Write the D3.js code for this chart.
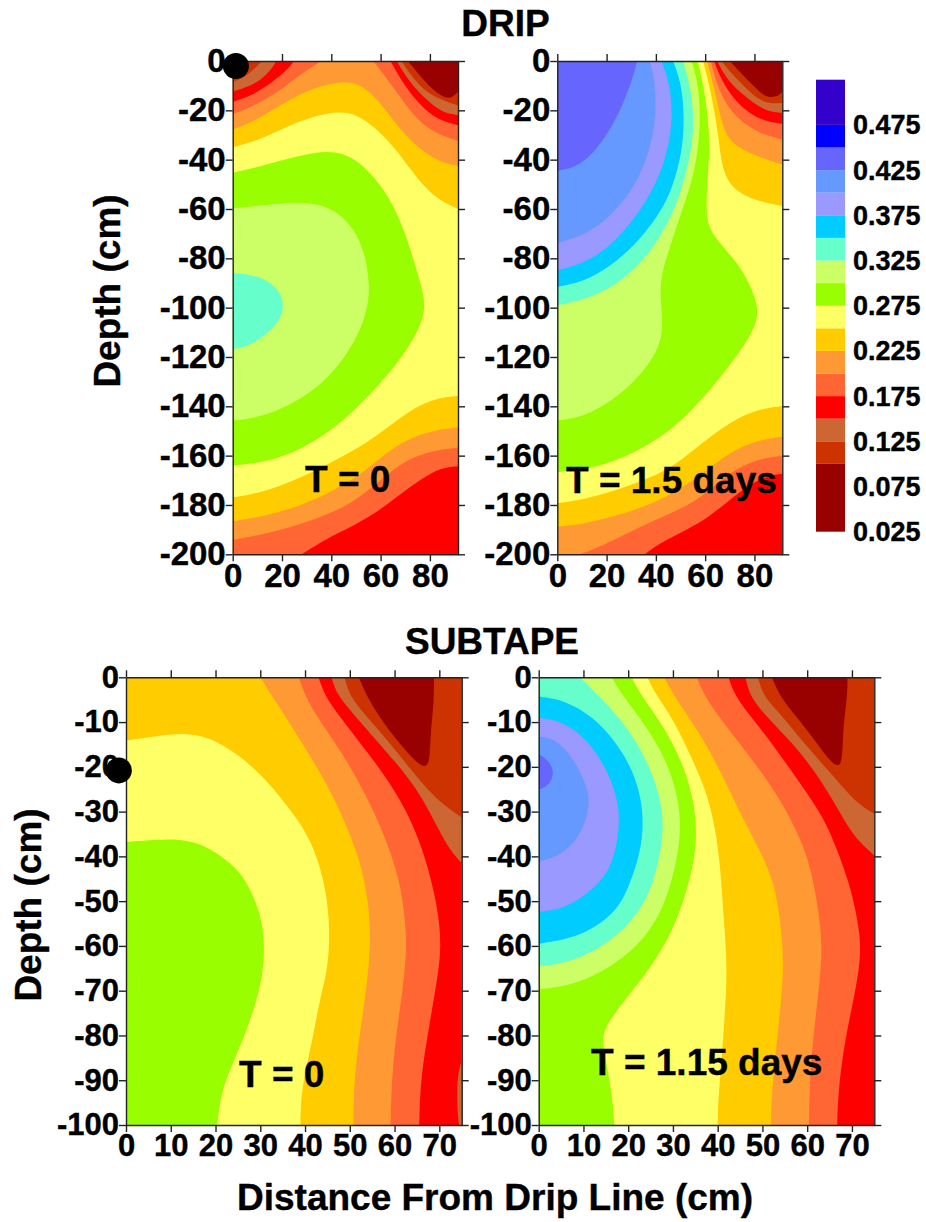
<!DOCTYPE html>
<html><head><meta charset="utf-8">
<script src="https://cdn.jsdelivr.net/npm/d3@7/dist/d3.min.js"></script>
<style>html,body{margin:0;background:#fff}svg{display:block}text{font-family:"Liberation Sans",Arial,sans-serif;font-weight:bold;fill:#000;stroke:#000;stroke-width:.4px}</style>
</head><body><svg id="c" width="926" height="1222"></svg>
<script>
// ---------- data ----------
const bandEdges = [0.025,0.1,0.125,0.15,0.175,0.2,0.225,0.25,0.275,0.3,0.325,0.35,0.375,0.4,0.425,0.45,0.475,0.525];
const bandColors = ["#990000","#CC3300","#CC6633","#FF0000","#FF6633","#FF9933","#FFCC00","#FFFF66","#99FF00","#CCFF66","#66FFCC","#00CCFF","#9999FF","#6699FF","#6666FF","#0000FF","#3300CC"];
const legendLabels = ["0.025","0.075","0.125","0.175","0.225","0.275","0.325","0.375","0.425","0.475"];
const dripXTicks = [0,20,40,60,80];
const dripYTicks = [0,-20,-40,-60,-80,-100,-120,-140,-160,-180,-200];
const subtapeXTicks = [0,10,20,30,40,50,60,70];
const subtapeYTicks = [0,-10,-20,-30,-40,-50,-60,-70,-80,-90,-100];
const dripEmitter = [[1.3,2]];
const subtapeEmitter = [[-1.6,20.8]];

// each layer: lower edge of its water-content band, corners that close it, contour [distance, depth below surface]
const dripZero = [
 [0.225,["TR","TL"],[[0,35],[11,32],[23,26],[34,22],[43.5,20.5],[50,21.5],[58,27],[66.5,36],[74.6,47.5],[82.7,56],[91.4,60]]],
 [0.2,["TR","TL"],[[0,27.7],[7,25.5],[20.5,17],[34,10.2],[46,8],[53,10],[60,17],[68,28],[76,36],[84,41],[91.4,42.5]]],
 [0.175,["TL"],[[0,21.5],[7,19],[18,13],[27,5.7],[36,0]]],
 [0.175,["TR"],[[57,0],[64,9],[72,20.5],[80,28.6],[91.4,32.4]]],
 [0.15,["TL"],[[0,16.5],[7,14.5],[16.5,8.4],[22,3.6],[25,0]]],
 [0.15,["TR"],[[64,0],[69,9],[76,18],[82.7,23.6],[91.4,26]]],
 [0.125,["TL"],[[0,12.4],[8.4,9.7],[14,5.7],[17.8,0]]],
 [0.125,["TR"],[[66.5,0],[72,9],[78.6,15.8],[85,21],[91.4,22]]],
 [0.1,["TL"],[[0,8.4],[5.7,6.4],[11.8,0]]],
 [0.1,["TR"],[[68.5,0],[74.6,9],[81,14.5],[91.4,18]]],
 [0.025,["TR"],[[71,0],[74.6,4.3],[80,10.7],[85.4,14.8],[88.8,15.2],[91.4,12.4]]],
 [0.275,[],[[0,45.3],[11,42.8],[23,39.3],[34,37],[42,36.6],[50,39.6],[58,47.6],[65,57.7],[70.5,71],[74.4,84],[77,93],[78,99],[77,105],[73.6,112.5],[66.5,123],[58,132.7],[47.6,143.5],[36.8,152],[24.6,159],[12.4,162.8],[0,164]]],
 [0.3,[],[[0,59.7],[13.8,58.4],[24.6,57.2],[34,57.6],[43.5,61.4],[50.5,69.9],[54.3,80.7],[55.6,92.8],[54.6,100],[52.3,108],[46,119.8],[36.8,130.6],[26,138],[12.4,144.4],[0,145.8]]],
 [0.325,[],[[0,86],[7,86.6],[13.8,88.6],[19,93],[21,99],[19,105.8],[12.4,112],[5.7,115.8],[0,116.8]]],
 [0.225,["BR","BL"],[[0,177],[11,175.2],[26,169.8],[42,161.7],[54.3,155],[65,146.9],[74.6,140],[82.7,136.7],[91.4,135.8]]],
 [0.2,["BR","BL"],[[0,186.6],[12.4,184.7],[27,180.6],[42,173.9],[54.3,165.8],[63.8,157.7],[73,152.3],[82.7,149.6],[91.4,148.5]]],
 [0.175,["BR","BL"],[[0,194.2],[12.4,192],[27,188],[42,182.7],[53,176],[63.8,166.4],[73,160.4],[82.7,157.7],[91.4,156.7]]],
 [0.15,["BR"],[[28,200],[39.5,192.8],[50,188],[61,181.3],[72,172.5],[81.4,166.4],[86.8,164.7],[91.4,164.4]]]
];
const dripLater = [
 [0.275,["TL"],[[56.9,0],[59.2,9.2],[61.2,22.7],[61.9,36.2],[60.8,49.7],[60.3,61.9],[61.9,68.6],[66.6,74.7],[73.4,82.2],[78.8,91.6],[81.4,100],[81,105],[78.8,110.4],[72.7,119.9],[63.2,132],[51,145.5],[40.3,153.7],[26.8,161.1],[13.2,165.5],[0,166.6]]],
 [0.3,["TL"],[[54.5,0],[57.2,9.2],[58.1,22.7],[57.2,36.2],[54.5,49.7],[49.7,63.2],[45.7,75.4],[42.3,86],[41.7,94.3],[42.6,103],[42.6,113.1],[37.6,122.6],[29.5,132],[18.6,140.1],[9.2,144.6],[0,145.8]]],
 [0.325,["TL"],[[51,0],[53.8,9.2],[55.6,22.7],[54.5,36.2],[51,51],[45.7,64.6],[37.6,78.1],[26.8,88.9],[13.2,96.4],[0,99]]],
 [0.35,["TL"],[[47,0],[50.4,9.2],[51.6,22.7],[50.8,36.2],[47,51],[41.6,61.9],[32.2,74],[21.4,83.5],[10.5,89.6],[0,91.6]]],
 [0.375,["TL"],[[42.3,0],[45.7,9.2],[46.8,22.7],[45,36.2],[40.3,49.7],[32.2,63.2],[21.4,75.4],[10.5,82.2],[0,84.9]]],
 [0.4,["TL"],[[37.6,0],[39.6,7.8],[40.2,22.7],[37.6,36.2],[32.2,49.7],[24,60.5],[13.2,70],[0,73.8]]],
 [0.425,["TL"],[[32.4,0],[30.8,6.5],[26.8,17.3],[21.4,28.1],[14.6,37.6],[7.8,43],[0,44.6]]],
 [0.225,["TR"],[[59.2,0],[61.2,7.8],[63.2,17.3],[65.3,29.5],[66.4,40.3],[68.6,48.4],[74,53.8],[82,57],[91.2,58.8]]],
 [0.2,["TR"],[[60.8,0],[63.2,9.2],[66,21.4],[68.4,30.8],[74,35.5],[82,39],[91.2,41.9]]],
 [0.175,["TR"],[[62.3,0],[64.6,9.2],[68.6,18],[74,24],[82,29.5],[91.2,31.8]]],
 [0.15,["TR"],[[63.6,0],[66.6,7.8],[71.4,15.3],[78,21.4],[85,24.7],[91.2,25.4]]],
 [0.125,["TR"],[[64.9,0],[68.6,7.2],[74,12.6],[80.8,18],[86.2,20.7],[91.2,21]]],
 [0.1,["TR"],[[66.6,0],[71.4,5.8],[76.8,11.2],[82,16],[86.9,17.3],[91.2,17]]],
 [0.025,["TR"],[[70,0],[75.4,5.8],[80.8,11.2],[84.2,14.6],[88.9,14.7],[91.2,12.6]]],
 [0.225,["BR","BL"],[[0,179.3],[9.2,178],[22.7,174.6],[43,167.2],[53.8,159],[64.6,150.3],[74,144.2],[83.5,140.8],[91.2,139.9]]],
 [0.2,["BR","BL"],[[0,188.8],[9.2,188.1],[22.7,184.7],[36,180.7],[49.7,173.9],[60.5,165.8],[72.7,157],[82,153.7],[91.2,152.3]]],
 [0.175,["BR"],[[9.2,200],[16,197.6],[29.5,190.8],[43,184.7],[56.5,178.7],[66,169.9],[75.4,163.8],[83.5,161],[91.2,160.1]]],
 [0.15,["BR"],[[35.5,200],[41.6,195.5],[52.4,190.1],[62,184.7],[71.4,176.6],[80.8,169.9],[87.6,167.8],[91.2,167.4]]]
];
const subtapeZero = [
 [0.225,["BR","TR","TL"],[[0,14.1],[6.9,13.1],[12.8,12.4],[18.8,13.4],[24.7,17],[30,21.5],[35,27.4],[39.6,33.4],[42.8,40],[44.8,48.3],[45.5,56],[45.3,62],[44.6,67],[43.3,72],[41.5,81.8],[39.6,90],[39,95.9],[39,100]]],
 [0.275,["BL"],[[0,36.8],[6.1,36.3],[12,36.1],[17.3,37.3],[22.5,40.8],[26.4,44.5],[29.2,50.5],[30.4,55],[31,60.2],[30.5,66.9],[28.8,73.6],[25.8,81.8],[22.5,89.2],[21,94.4],[20.4,100]]],
 [0.2,["BR","TR"],[[30,0],[33.7,5.8],[38.9,14],[44,22.2],[48.5,31.1],[52.3,40.8],[54.2,50],[54.8,60],[53.4,72],[51.9,81.8],[50.9,91.4],[50.8,100]]],
 [0.175,["BR","TR"],[[38.6,0],[40.7,5.8],[44.8,11.8],[49.3,18.5],[53.8,26.7],[57.9,35.6],[61.2,45.3],[62.5,55],[62.7,62],[61.6,71.3],[60.1,81.8],[59.3,91.4],[59.1,100]]],
 [0.15,["BR","TR"],[[43,0],[44.5,4.3],[47.8,8.8],[52.3,14.7],[57.5,21.4],[62.7,29.6],[66.4,38.6],[69,48.3],[70.2,56],[70.3,62.4],[69,70.6],[67.2,81],[65.8,90],[65.5,100]]],
 [0.125,["TR"],[[45.9,0],[47,3.6],[50,7.3],[54.5,12.5],[60.5,19.2],[65.7,25.9],[70.1,34.5],[72.5,38.8],[75,41.5]]],
 [0.1,["TR"],[[48.8,0],[50,4.3],[53.8,8.8],[59,14.7],[64.2,21.4],[69.4,27.4],[75,31.3]]],
 [0.025,[],[[52,0],[53.8,4.3],[57.5,10.3],[62,15.9],[64.9,19],[66.8,20.2],[67.9,19],[68,12.5],[68.8,5.8],[68.8,0]]],
 [0.125,["BR"],[[75,85.5],[74,89.2],[73.9,95.2],[74.4,100]]]
];
const subtapeLater = [
 [0.275,["BL","TL"],[[20.8,0],[22.6,3.6],[26.4,8.8],[30,14.7],[33,21.4],[34.9,28.9],[35.3,35.6],[34.7,41],[33,48.2],[29.8,57],[25.6,63.9],[21.1,69.8],[16.7,75.4],[14.6,78.8],[14.2,81.8],[15.6,88.5],[16.5,94.4],[16.9,100]]],
 [0.3,["TL"],[[16.3,0],[18.9,4.3],[24.1,11],[28.6,18.5],[31.4,27.4],[31.8,35.6],[30.2,43.8],[28.4,49.7],[25.6,55.7],[20.4,61.7],[13.7,66.1],[7,68.9],[0,69.7]]],
 [0.325,["TL"],[[9.2,0],[14.4,5.1],[20.4,11.8],[24.9,20],[27.6,28.1],[27.9,35.6],[26.2,43.8],[24.1,49.7],[20.4,55],[14.4,60.2],[7,63.7],[0,64.6]]],
 [0.35,[],[[0,4.3],[5.5,5],[12.2,8.7],[18.2,15.5],[22,22.9],[23.6,31.1],[22.8,39.3],[19.9,47.5],[17.4,52],[13,55.7],[7,58.5],[0,59.5]]],
 [0.375,[],[[0,9],[5.5,9.8],[10.9,13.9],[15.4,20.7],[18,28.1],[18,34.8],[16.2,43],[11.7,47.7],[8.5,49.9],[4.8,51.8],[0,52.4]]],
 [0.4,[],[[0,13.2],[4,13.8],[7.9,18.3],[10.5,23.7],[11.5,27.4],[10.5,32.6],[7.9,37.2],[4,40.2],[0,41.1]]],
 [0.425,[],[[0,17.2],[1.8,18.2],[3.5,20.7],[2.8,23.5],[1,24.8],[0,25]]],
 [0.225,["BR","TR"],[[24.3,0],[26,3.6],[29.7,8.8],[33,15.5],[36.8,23.7],[39,31.1],[40.5,40.8],[41.2,52],[42.2,64.6],[41.6,75],[40.9,85.5],[40.1,94.4],[40,100]]],
 [0.2,["BR","TR"],[[28,0],[30.8,5.1],[36,12.5],[40.5,20.7],[45,30.4],[49.4,38.6],[52.4,45.3],[53.9,53],[54.9,64.6],[53.9,75],[52.8,85.5],[52,94.4],[51.9,100]]],
 [0.175,["BR","TR"],[[35.3,0],[37.5,5.1],[42,11],[47.2,17.7],[53.2,25.9],[57.6,34.1],[60.6,41.5],[62.5,51.6],[63.4,60],[62.8,68],[61.7,77.3],[60.6,88.5],[60.4,100]]],
 [0.15,["BR","TR"],[[42.4,0],[43.9,4.3],[48,9.5],[53.2,16.2],[58.4,23.7],[63.6,31.1],[66.7,38.5],[69.4,46],[70.8,52],[71.7,57],[72,62.4],[70.7,70.6],[68.4,81],[66.9,92.9],[66.7,100]]],
 [0.125,["TR"],[[46.2,0],[47.2,4.3],[50.9,8.8],[56.1,14],[62.1,21.4],[66.6,28.9],[70.3,35.6],[75,39.8]]],
 [0.1,["TR"],[[49,0],[50.2,4.3],[53.9,8],[59.9,15.5],[66.6,22.9],[71,28.1],[75,30.5]]],
 [0.025,[],[[52.1,0],[53.9,4.3],[57.6,8.8],[61.7,14],[65.1,18.8],[66.9,20],[67.9,18.8],[68,11],[69,4.3],[69,0]]]
];

// ---------- layout ----------
const baseBand = 0.25;
const panels = [
 {layers:dripZero, l:232.7,r:458,t:61,b:554.3, xMax:91.4, yMin:-200, xt:dripXTicks, yt:dripYTicks, fs:33, dots:dripEmitter, label:"T = 0", lx:305, ly:492},
 {layers:dripLater, l:557.3,r:782.3,t:61,b:554.3, xMax:91.3, yMin:-200, xt:dripXTicks, yt:dripYTicks, fs:33, dots:[], label:"T = 1.5 days", lx:566, ly:493},
 {layers:subtapeZero, l:126,r:461.7,t:677.3,b:1125, xMax:75, yMin:-100, xt:subtapeXTicks, yt:subtapeYTicks, fs:31, dots:subtapeEmitter, label:"T = 0", lx:239, ly:1087},
 {layers:subtapeLater, l:538.7,r:874.3,t:677.3,b:1125, xMax:75, yMin:-100, xt:subtapeXTicks, yt:subtapeYTicks, fs:31, dots:[], label:"T = 1.15 days", lx:591, ly:1075}
];
const svg = d3.select("#c");
const bandColor = d3.scaleThreshold().domain(bandEdges.slice(1)).range(bandColors);
const defs = svg.append("defs");
const plain = d => String(d);

panels.forEach((p,i)=>{
  const x = d3.scaleLinear().domain([0,p.xMax]).range([p.l,p.r]);
  const y = d3.scaleLinear().domain([p.yMin,0]).range([p.b,p.t]);
  const corners = {TL:[p.l,p.t],TR:[p.r,p.t],BL:[p.l,p.b],BR:[p.r,p.b]};
  const line = d3.line().x(d=>x(d[0])).y(d=>y(-d[1])).curve(d3.curveBasis);
  defs.append("clipPath").attr("id","clip"+i).append("rect")
    .attr("x",p.l).attr("y",p.t).attr("width",p.r-p.l).attr("height",p.b-p.t);
  const g = svg.append("g");
  const field = g.append("g").attr("clip-path",`url(#clip${i})`);
  field.append("rect").attr("x",p.l).attr("y",p.t).attr("width",p.r-p.l).attr("height",p.b-p.t)
    .attr("fill",bandColor(baseBand));
  field.selectAll("path").data(p.layers).join("path")
    .attr("fill",d=>bandColor(d[0]))
    .attr("d",d=>line(d[2])+d[1].map(c=>"L"+corners[c].join(",")).join("")+"Z");

  const axes = [
    [d3.axisLeft(y).tickValues(p.yt).tickFormat(plain).tickPadding(0), `translate(${p.l},0)`],
    [d3.axisBottom(x).tickValues(p.xt).tickFormat(plain).tickPadding(2), `translate(0,${p.b})`],
    [d3.axisRight(y).tickValues(p.yt).tickFormat(""), `translate(${p.r},0)`],
    [d3.axisTop(x).tickValues(p.xt).tickFormat(""), `translate(0,${p.t})`]
  ];
  axes.forEach(([ax,tr])=>{
    const a = g.append("g").attr("transform",tr).call(ax.tickSize(7).tickSizeOuter(0));
    a.selectAll("path,line").attr("stroke","#222").attr("stroke-width",1.4);
    a.selectAll("text").attr("font-size",p.fs).attr("fill","#000");
    a.attr("font-family",null);
  });
  g.append("text").attr("x",p.lx).attr("y",p.ly).attr("font-size",37).text(p.label);
  g.selectAll("circle").data(p.dots).join("circle")
    .attr("cx",d=>x(d[0])).attr("cy",d=>y(-d[1])).attr("r",13).attr("fill","#000");
});

// colour key
const keyY = d3.scaleLinear().domain([0.025,0.525]).range([531.7,79.7]);
svg.append("g").selectAll("rect").data(bandColors).join("rect")
  .attr("x",816).attr("width",29)
  .attr("y",(d,i)=>keyY(bandEdges[i+1])).attr("height",(d,i)=>keyY(bandEdges[i])-keyY(bandEdges[i+1]))
  .attr("fill",d=>d);
svg.append("g").selectAll("text").data(legendLabels).join("text")
  .attr("x",853).attr("y",d=>keyY(+d)+9.5).attr("font-size",27).text(d=>d);

// titles
const title=(s,x,y,fs,rot)=>svg.append("text").attr("text-anchor","middle").attr("font-size",fs)
  .attr("transform",`translate(${x},${y})`+(rot?" rotate(-90)":"")).text(s);
title("DRIP",505.5,36,37);
title("SUBTAPE",492,654,37);
title("Depth (cm)",120,291,37,true);
title("Depth (cm)",41,905,37,true);
title("Distance From Drip Line (cm)",495,1210,37);
</script></body></html>
